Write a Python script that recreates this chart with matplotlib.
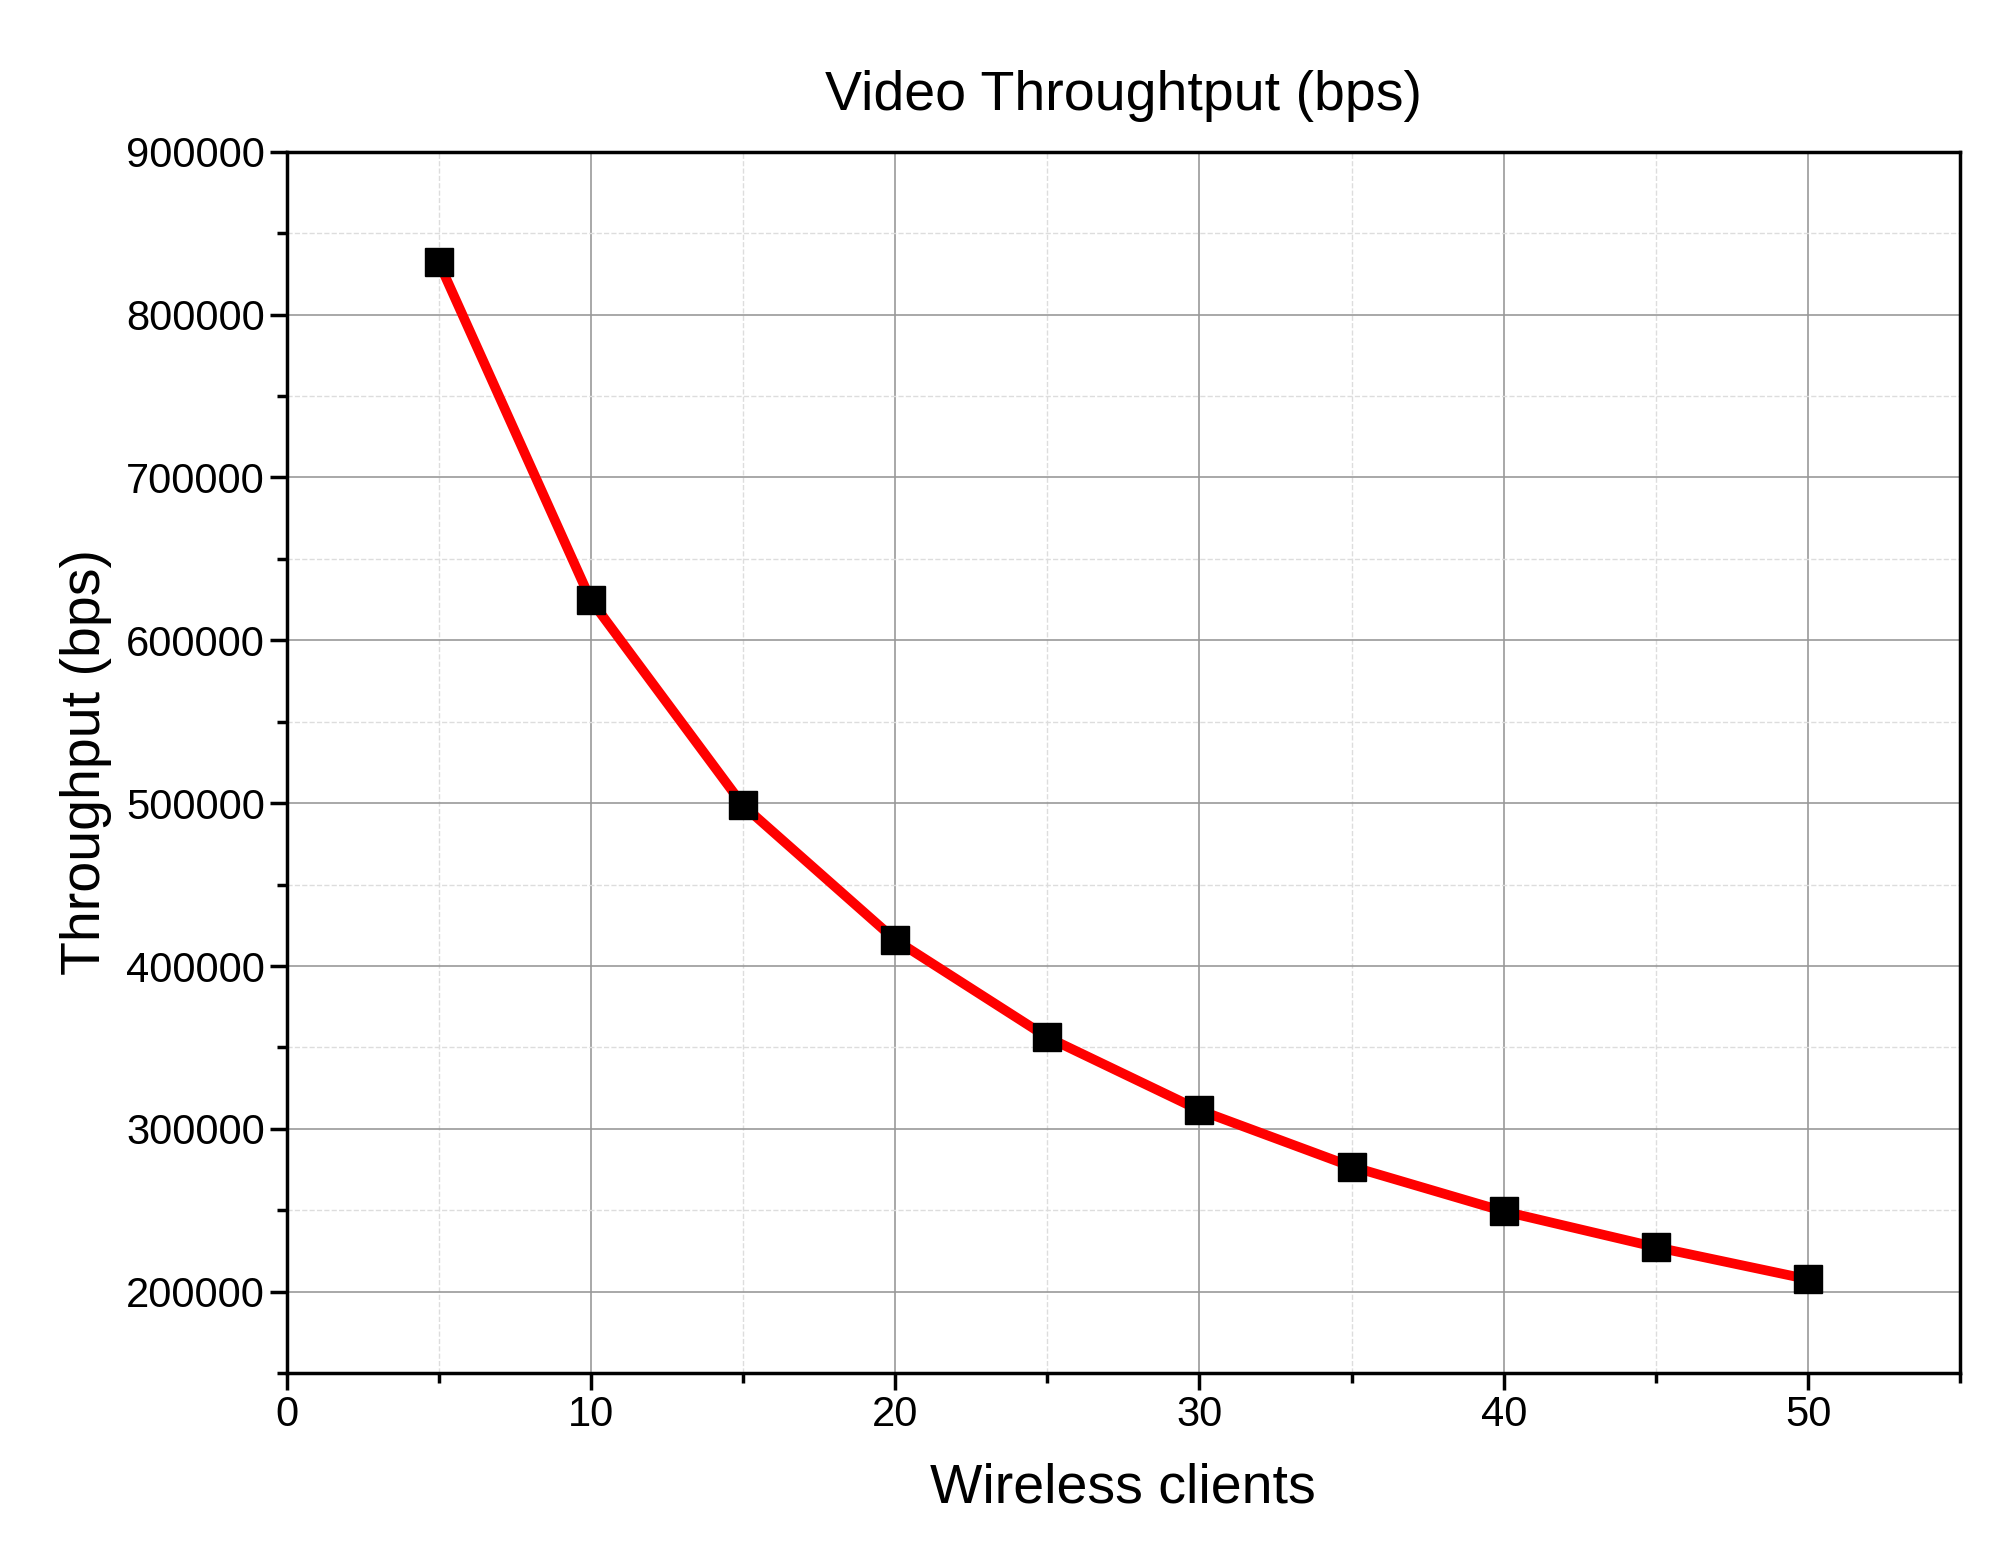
import matplotlib
matplotlib.use("Agg")
import matplotlib.pyplot as plt
from matplotlib.ticker import MultipleLocator

plt.rcParams["font.family"] = ["Liberation Sans", "DejaVu Sans"]

clients = [5, 10, 15, 20, 25, 30, 35, 40, 45, 50]
throughput = [832300, 624600, 498700, 416100, 356300, 311500, 276900, 249400, 227400, 207700]

fig = plt.figure(figsize=(19.9, 15.64), dpi=100)
ax = fig.add_axes([0.144, 0.122, 0.841, 0.781])

ax.plot(clients, throughput, color="#ff0000", linewidth=7, zorder=3)
ax.plot(clients, throughput, linestyle="none", marker="s", markersize=20,
        color="black", zorder=4)

ax.set_xlim(0, 55)
ax.set_ylim(150000, 900000)
ax.xaxis.set_major_locator(MultipleLocator(10))
ax.xaxis.set_minor_locator(MultipleLocator(5))
ax.yaxis.set_major_locator(MultipleLocator(100000))
ax.yaxis.set_minor_locator(MultipleLocator(50000))

ax.grid(which="major", color="#999999", linewidth=1.2)
ax.grid(which="minor", color="#dddddd", linestyle="--", linewidth=1.0)
ax.set_axisbelow(True)

for s in ax.spines.values():
    s.set_linewidth(2.5)
ax.tick_params(which="major", direction="out", length=12, width=2.5, labelsize=30)
ax.tick_params(which="minor", direction="out", length=7, width=2.5)

ax.set_xlabel("Wireless clients", fontsize=40, labelpad=20)
ax.set_ylabel("Throughput (bps)", fontsize=40, labelpad=10)
ax.set_title("Video Throughtput (bps)", fontsize=40, pad=30)

fig.savefig("out.png", dpi=100, facecolor="white")
